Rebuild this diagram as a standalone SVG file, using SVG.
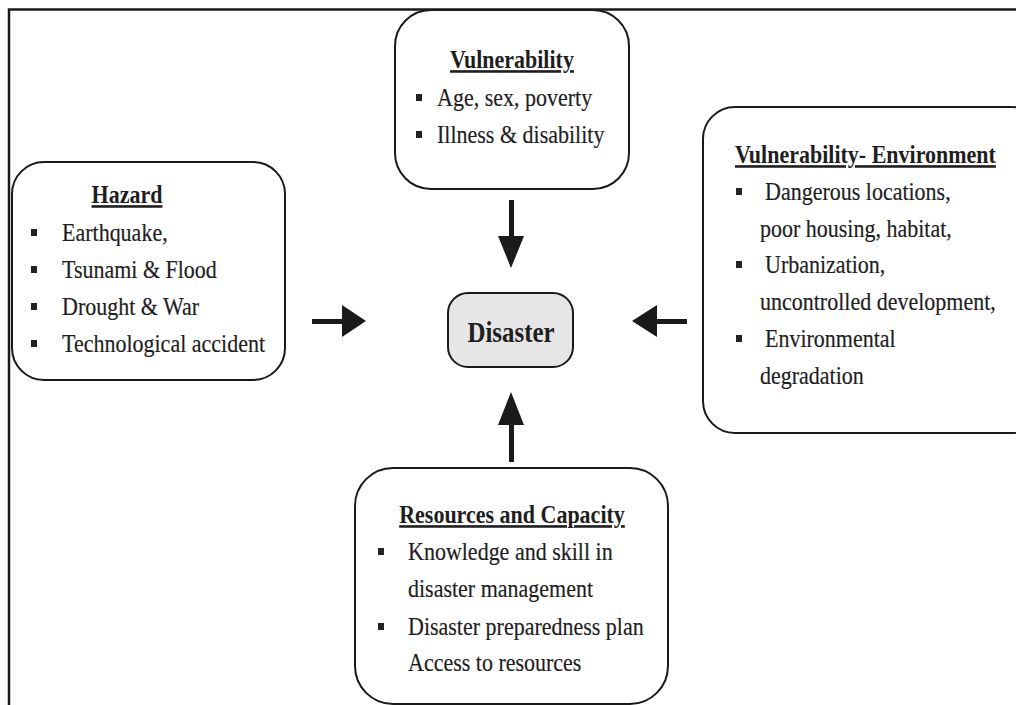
<svg xmlns="http://www.w3.org/2000/svg" width="1016" height="705" viewBox="0 0 1016 705">
<style>
.box{fill:#fff;stroke:#1a1a1a;stroke-width:2}
.t{font-family:"Liberation Serif","Times New Roman",serif;font-size:26px;fill:#1e1e1e;stroke:#1e1e1e;stroke-width:0.2}
.h{font-family:"Liberation Serif","Times New Roman",serif;font-size:26px;font-weight:bold;fill:#1e1e1e;text-decoration:underline}
.b{fill:#222}
.arr{fill:#1a1a1a;stroke:none}
</style>
<rect width="1016" height="705" fill="#fff"/>
<path d="M9 705 V9.5 H1016" fill="none" stroke="#1a1a1a" stroke-width="2.5"/>
<g id="connectors">
<rect class="arr" x="509" y="200" width="5" height="38"/><polygon class="arr" points="498,236 524,236 511,268"/>
<rect class="arr" x="312" y="319" width="32" height="5"/><polygon class="arr" points="342,305 342,337 366,321"/>
<rect class="arr" x="655" y="319" width="32" height="5"/><polygon class="arr" points="657,305 657,337 632,321"/>
<rect class="arr" x="509" y="423" width="5" height="39"/><polygon class="arr" points="498,425 524,425 511,392"/>
</g>
<g id="vulnerability">
<rect class="box" x="395" y="10" width="234" height="179" rx="36"/>
<text class="h" transform="translate(512 68) scale(0.846 1)" text-anchor="middle">Vulnerability</text>
<rect class="b" x="416" y="94" width="6" height="7"/><text class="t" transform="translate(437 106) scale(0.846 1)">Age, sex, poverty</text>
<rect class="b" x="416" y="131" width="6" height="7"/><text class="t" transform="translate(437 143) scale(0.846 1)">Illness &amp; disability</text>
</g>
<g id="hazard">
<rect class="box" x="12" y="162" width="273" height="218" rx="32"/>
<text class="h" transform="translate(127 203) scale(0.846 1)" text-anchor="middle">Hazard</text>
<rect class="b" x="31" y="229" width="6" height="7"/><text class="t" transform="translate(62 241) scale(0.846 1)">Earthquake,</text>
<rect class="b" x="31" y="266" width="6" height="7"/><text class="t" transform="translate(62 278) scale(0.846 1)">Tsunami &amp; Flood</text>
<rect class="b" x="31" y="303" width="6" height="7"/><text class="t" transform="translate(62 315) scale(0.846 1)">Drought &amp; War</text>
<rect class="b" x="31" y="340" width="6" height="7"/><text class="t" transform="translate(62 352) scale(0.846 1)">Technological accident</text>
</g>
<g id="environment">
<rect class="box" x="703" y="107" width="340" height="326" rx="32"/>
<text class="h" transform="translate(735 163) scale(0.846 1)">Vulnerability- Environment</text>
<rect class="b" x="736" y="188" width="6" height="7"/><text class="t" transform="translate(765 200) scale(0.846 1)">Dangerous locations,</text>
<text class="t" transform="translate(760 237) scale(0.846 1)">poor housing, habitat,</text>
<rect class="b" x="736" y="261" width="6" height="7"/><text class="t" transform="translate(765 273) scale(0.846 1)">Urbanization,</text>
<text class="t" transform="translate(760 310) scale(0.846 1)">uncontrolled development,</text>
<rect class="b" x="736" y="335" width="6" height="7"/><text class="t" transform="translate(765 347) scale(0.846 1)">Environmental</text>
<text class="t" transform="translate(760 384) scale(0.846 1)">degradation</text>
</g>
<g id="disaster">
<rect x="448" y="293" width="125" height="74" rx="20" fill="#e6e6e6" stroke="#1a1a1a" stroke-width="2"/>
<text transform="translate(511 342) scale(0.86 1)" text-anchor="middle" font-family="Liberation Serif, Times New Roman, serif" font-size="29" font-weight="bold" fill="#1e1e1e">Disaster</text>
</g>
<g id="resources">
<rect class="box" x="355" y="468" width="313" height="236" rx="38"/>
<text class="h" transform="translate(512 523) scale(0.846 1)" text-anchor="middle">Resources and Capacity</text>
<rect class="b" x="378" y="548" width="6" height="7"/><text class="t" transform="translate(408 560) scale(0.846 1)">Knowledge and skill in</text>
<text class="t" transform="translate(408 597) scale(0.846 1)">disaster management</text>
<rect class="b" x="378" y="623" width="6" height="7"/><text class="t" transform="translate(408 635) scale(0.846 1)">Disaster preparedness plan</text>
<text class="t" transform="translate(408 671) scale(0.846 1)">Access to resources</text>
</g>
</svg>
